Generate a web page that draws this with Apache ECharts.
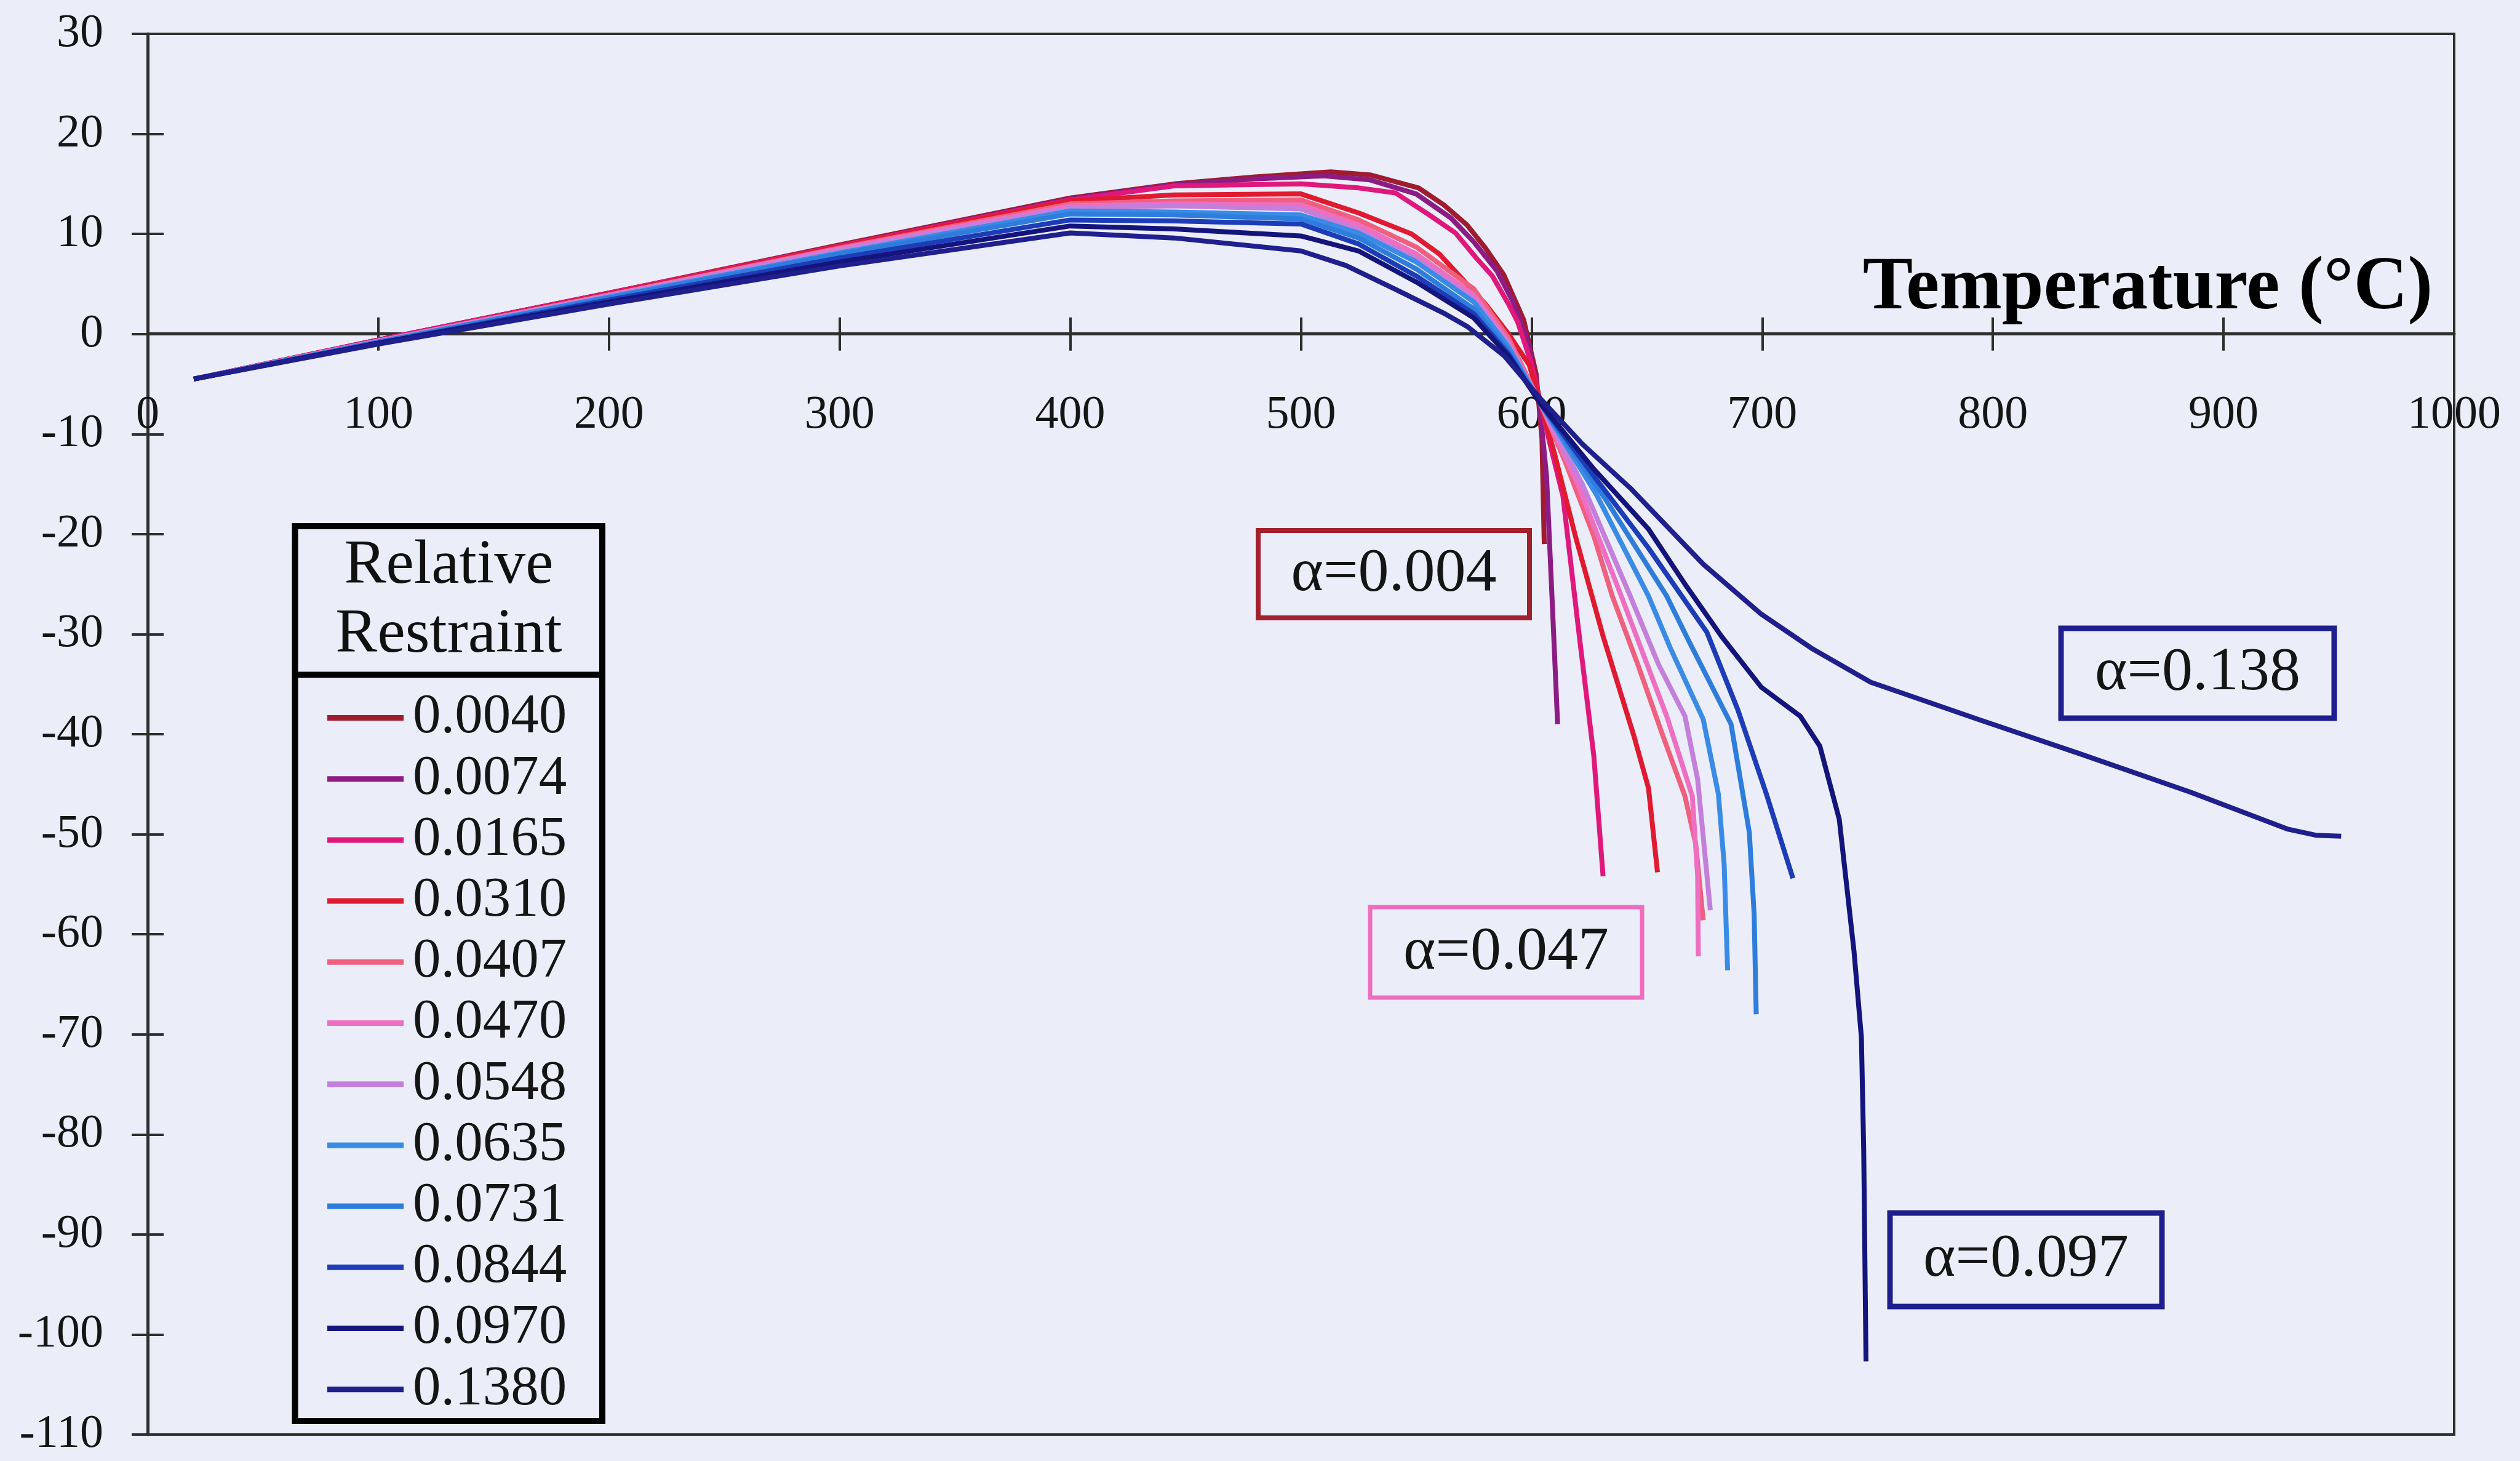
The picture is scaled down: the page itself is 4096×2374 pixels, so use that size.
<!DOCTYPE html>
<html>
<head>
<meta charset="utf-8">
<script src="https://cdn.jsdelivr.net/npm/echarts@6/dist/echarts.min.js"></script>
<style>
html,body{margin:0;padding:0;background:#EBEEF9;}
#chart{width:4096px;height:2374px;}
</style>
</head>
<body>
<div id="chart"></div>
<script>
// ---- data (temperature °C, axial force) ----
const restraintLabels = ['0.0040','0.0074','0.0165','0.0310','0.0407','0.0470','0.0548','0.0635','0.0731','0.0844','0.0970','0.1380'];
const lineColors = ['#A01B30','#8C1C84','#E0187C','#E01A30','#F0607E','#EE6EC2','#C47FDB','#3A8BE6','#2E7DDC','#1C3CB8','#14147C','#1F1F8E'];

const r0040 = [[20,-4.5],[100,-0.6],[200,4.1],[300,8.9],[400,13.6],[445,15.0],[480,15.7],[513,16.2],[530,15.9],[551,14.6],[562,12.9],[572,10.9],[580,8.6],[588,5.9],[596.6,1.4],[602,-4.0],[604.5,-10.5],[605.5,-21]];
const r0074 = [[20,-4.5],[100,-0.6],[200,4.1],[300,8.8],[400,13.5],[445,14.9],[480,15.5],[510,15.8],[530,15.4],[550,14.0],[565,11.6],[575,9.2],[585,6.3],[592,3.2],[598,-0.5],[603,-6],[606.5,-14.2],[609,-27],[611.3,-39]];
const r0165 = [[20,-4.5],[100,-0.6],[200,4.1],[300,8.8],[400,13.4],[445,14.8],[500,15.0],[525,14.6],[541,14.1],[555,12.0],[567,10.1],[576,7.6],[583,5.8],[590,3.0],[594,1.2],[600,-3.0],[604,-7],[608,-11],[613.6,-16.2],[620.7,-30.2],[627,-42.2],[631,-54.2]];
const r0310 = [[20,-4.5],[100,-0.7],[200,4.0],[300,8.7],[400,13.3],[445,13.9],[500,14.0],[525,12.1],[548,10.0],[560,8.0],[572,5.0],[580,3.0],[590,0.0],[599,-3.1],[604,-7],[610,-12],[619,-20.2],[631,-30.2],[644.4,-40.2],[650.7,-45.4],[654.6,-53.8]];
const r0407 = [[20,-4.5],[100,-0.7],[200,3.9],[300,8.6],[400,13.0],[445,13.3],[500,13.4],[525,11.4],[550,8.7],[575,4.5],[590,-0.4],[604,-7],[615,-13],[627,-20.2],[635,-26.2],[646,-33],[657,-40.2],[666.5,-46.2],[671.2,-51],[674.4,-58.6]];
const r0470 = [[20,-4.5],[100,-0.7],[200,3.9],[300,8.5],[400,12.8],[445,13.0],[500,12.9],[525,10.9],[550,8.0],[575,3.9],[590,-0.8],[604,-7],[620,-15],[638.9,-26.2],[658.6,-38.2],[669.7,-46.2],[672,-54.2],[672.3,-62.2]];
const r0548 = [[20,-4.5],[100,-0.7],[200,3.8],[300,8.4],[400,12.6],[445,12.8],[500,12.5],[525,10.4],[550,7.5],[575,3.5],[590,-1.0],[604,-7],[622,-15],[642.8,-26.2],[655,-33],[666.5,-38.2],[672,-44.5],[677.5,-57.6]];
const r0635 = [[20,-4.5],[100,-0.8],[200,3.7],[300,8.1],[400,12.3],[445,12.2],[500,11.9],[525,10.1],[550,7.2],[575,3.2],[590,-1.3],[604,-7],[628,-16],[650.7,-26.2],[660,-31.3],[674.4,-38.5],[681,-46],[683.5,-53],[685,-63.6]];
const r0731 = [[20,-4.5],[100,-0.8],[200,3.6],[300,8.0],[400,12.0],[445,11.9],[500,11.5],[525,9.6],[550,6.5],[575,2.5],[590,-1.7],[604,-7],[632,-16.5],[658.6,-26.2],[668,-30.6],[686.5,-39],[694.4,-49.8],[696.5,-58],[697.4,-68.0]];
const r0844 = [[20,-4.5],[100,-0.9],[200,3.4],[300,7.6],[400,11.4],[445,11.3],[500,11.0],[525,9.0],[550,5.8],[575,2.0],[590,-2.0],[604,-7],[628,-14.5],[650.7,-21.4],[676,-29.8],[689.5,-37.6],[701.7,-45.9],[713.3,-54.4]];
const r0970 = [[20,-4.5],[100,-0.9],[200,3.2],[300,7.2],[400,10.8],[445,10.5],[500,9.8],[525,8.3],[550,5.2],[575,1.6],[590,-2.2],[604,-7],[627,-13.5],[650.7,-19.5],[666.5,-25.0],[682.3,-30.2],[699.6,-35.3],[716.5,-38.2],[725,-41.2],[733.4,-48.5],[739.8,-61.7],[743,-70.3],[744,-81.5],[745,-102.7]];
const r1380 = [[20,-4.5],[100,-1.0],[200,3.0],[300,6.8],[400,10.1],[445,9.6],[500,8.3],[519.5,6.85],[540.7,4.5],[561.8,2.1],[572.4,0.7],[588.2,-2.2],[604,-6.5],[622,-11],[642.8,-15.4],[674.4,-23.0],[699.6,-28.0],[722,-31.5],[747,-34.8],[794.7,-38.6],[837,-41.9],[885.7,-45.8],[928,-49.5],[940,-50.1],[951,-50.2]];

const seriesData = [r0040,r0074,r0165,r0310,r0407,r0470,r0548,r0635,r0731,r0844,r0970,r1380];

// axis ranges
const xRange = {min:0, max:1000, step:100};
const yRange = {min:-110, max:30, step:10};

// annotations
const annotationTexts = ['α=0.004','α=0.047','α=0.138','α=0.097'];
const xAxisTitle = 'Temperature (°C)';
const legendTitle = ['Relative','Restraint'];

// ---- rendering ----
const FONT = '"Liberation Serif", "Times New Roman", serif';
const BG = '#EBEEF9';
const AX = '#2e2e2e';
const GRID = {left:240, right:107, top:55, bottom:43};
const TICK_FONT = 76;
const chart = echarts.init(document.getElementById('chart'), null, {renderer:'canvas'});

function xAxisTicks(inside){
  return {
    type:'value', min:xRange.min, max:xRange.max, interval:xRange.step, position:'bottom',
    axisLine:{show:!inside, onZero:true, onZeroAxisIndex:0, lineStyle:{color:AX, width:5}},
    axisTick:{show:true, inside:inside, length:27, lineStyle:{color:AX, width:4}},
    axisLabel:{show:false},
    splitLine:{show:false}
  };
}
// label-only x axis (labels sit just under the zero line)
const xLabelAxis = {
  type:'value', min:xRange.min, max:xRange.max, interval:xRange.step, position:'bottom',
  axisLine:{show:false, onZero:false}, axisTick:{show:false}, splitLine:{show:false},
  axisLabel:{show:true, margin:-1694, verticalAlign:'top', fontSize:TICK_FONT, fontFamily:FONT, color:'#151515',
    formatter:(v)=>String(v),
    showMinLabel:true, showMaxLabel:true, hideOverlap:false, alignMinLabel:'center', alignMaxLabel:'center'}
};
function yAxisBase(inside){
  return {
    type:'value', min:yRange.min, max:yRange.max, interval:yRange.step, position:'left',
    axisLine:{show:!inside, onZero:true, onZeroAxisIndex:0, lineStyle:{color:AX, width:5}},
    axisTick:{show:true, inside:inside, length:26, lineStyle:{color:AX, width:4}},
    axisLabel:{show:!inside, margin:72, fontSize:TICK_FONT, fontFamily:FONT, color:'#151515', formatter:(v)=>String(v),
      showMinLabel:true, showMaxLabel:true, hideOverlap:false},
    splitLine:{show:false}
  };
}

function annBox(x,y,w,h,color,lw,text){
  return [
    {type:'rect', z:5, shape:{x:x,y:y,width:w,height:h}, style:{fill:BG, stroke:color, lineWidth:lw}},
    {type:'text', z:6, x:x+w/2, y:y+h/2, style:{text:text, fill:'#151515', font:'100px ' + FONT, align:'center', verticalAlign:'middle'}}
  ];
}

const graphicEls = [
  // legend frame
  {type:'rect', z:1, shape:{x:479.5, y:855, width:499.5, height:1454}, style:{fill:BG, stroke:'#000', lineWidth:10}},
  {type:'line', z:1, shape:{x1:479.5, y1:1096.5, x2:979, y2:1096.5}, style:{stroke:'#000', lineWidth:10}},
  {type:'text', z:6, x:729.5, y:920, style:{text:legendTitle[0], fill:'#111', font:'102px ' + FONT, align:'center', verticalAlign:'middle'}},
  {type:'text', z:6, x:729.5, y:1032, style:{text:legendTitle[1], fill:'#111', font:'102px ' + FONT, align:'center', verticalAlign:'middle'}},
  // x axis title
  {type:'text', z:6, x:3491, y:469, style:{text:xAxisTitle, fill:'#000', font:'bold 122px ' + FONT, align:'center', verticalAlign:'middle'}}
]
.concat(annBox(2045, 862, 441, 142, '#A3202E', 8, annotationTexts[0]))
.concat(annBox(2227, 1474, 442, 147, '#F06CC0', 7, annotationTexts[1]))
.concat(annBox(3350, 1021, 444, 146, '#1E1E8C', 9, annotationTexts[2]))
.concat(annBox(3072, 1971, 442, 152, '#1E1E8C', 9, annotationTexts[3]));

const option = {
  backgroundColor: BG,
  animation: false,
  grid: Object.assign({show:true, borderColor:AX, borderWidth:4, backgroundColor:'transparent', outerBoundsMode:'none', containLabel:false}, GRID),
  xAxis: [xAxisTicks(false), xAxisTicks(true), xLabelAxis],
  yAxis: [yAxisBase(false), yAxisBase(true)],
  legend: {
    show:true, orient:'vertical', left:532, top:1121, padding:0, itemGap:8.2,
    itemWidth:124, itemHeight:9, icon:'rect', selectedMode:false, data:restraintLabels,
    textStyle:{fontSize:91, fontFamily:FONT, color:'#151515', lineHeight:90, padding:[0,0,0,10]},
    z:8
  },
  graphic: {elements: graphicEls},
  series: restraintLabels.map((name,i)=>({
    name:name, type:'line', xAxisIndex:0, yAxisIndex:0, data:seriesData[i],
    symbol:'none', showSymbol:false, smooth:false, z:2,
    lineStyle:{color:lineColors[i], width:8, cap:'butt', join:'round'},
    itemStyle:{color:lineColors[i]},
    emphasis:{disabled:true}
  }))
};
chart.setOption(option);
</script>
</body>
</html>
